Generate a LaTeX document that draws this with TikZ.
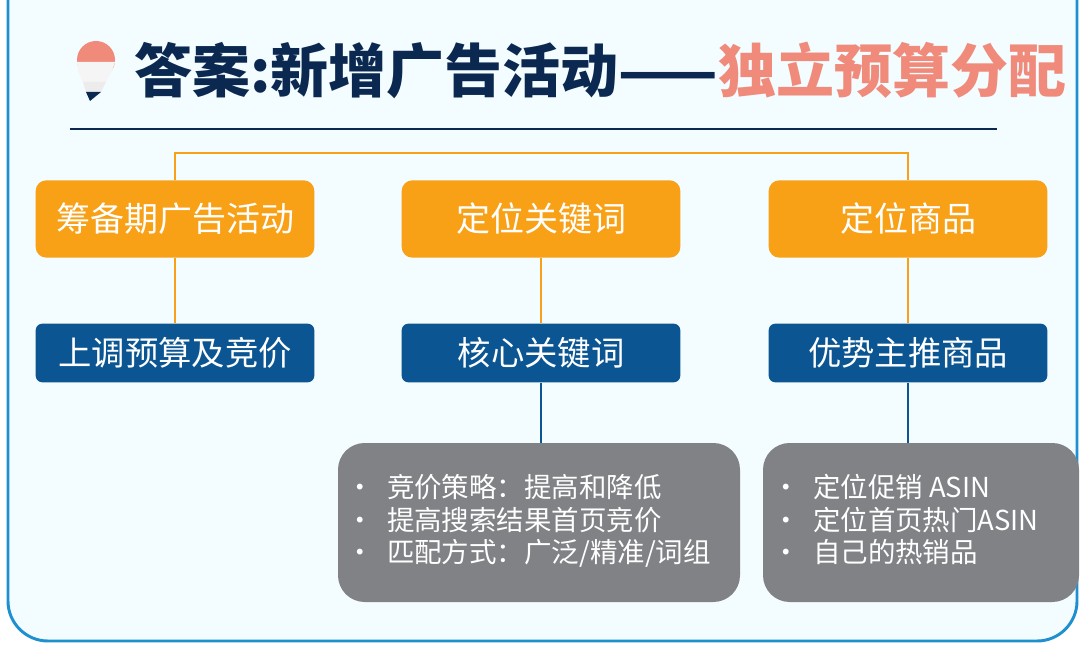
\documentclass[tikz,border=0pt]{standalone}
\usepackage{fontspec}
\newfontfamily\cjk{Noto Sans CJK SC}
\definecolor{bgc}{HTML}{F3FCFF}
\definecolor{frm}{HTML}{1E90D0}
\definecolor{navy}{HTML}{0B2850}
\definecolor{salmon}{HTML}{F08A7A}
\definecolor{org}{HTML}{F8A016}
\definecolor{blu}{HTML}{0A5592}
\definecolor{gry}{HTML}{808285}
\begin{document}
\begin{tikzpicture}[x=0.75pt,y=-0.75pt,
  obox/.style={fill=org,rounded corners=8pt,minimum width=209pt,minimum height=58pt,text=white,font=\cjk\fontsize{25.5}{30}\selectfont},
  bbox/.style={fill=blu,rounded corners=5pt,minimum width=209pt,minimum height=44pt,text=white,font=\cjk\fontsize{25}{29}\selectfont},
  gbox/.style={fill=gry,rounded corners=18pt,text=white,align=left,font=\cjk\fontsize{20.6}{24.4}\selectfont,anchor=north west,inner sep=0pt},
  oline/.style={draw=org,line width=2pt},
  bline/.style={draw=blu,line width=2pt}]
\useasboundingbox (0,0) rectangle (1080,655);
\fill[white] (0,0) rectangle (1080,655);
\draw[frm,line width=2.2pt,fill=bgc,rounded corners=30pt] (8,-40) rectangle (1077,641);
% bulb
\fill[salmon] (96,60) circle (19);
\fill[white!92!gray] (77,62) -- (115,62) -- (112,71) -- (106,82) -- (83,82) -- (78,71) -- cycle;
\fill[white!85!gray] (83,82) -- (106,82) -- (101,92) -- (86,92) -- cycle;
\fill[navy] (86,92) -- (101,92) -- (90,101) -- cycle;
\node[anchor=west,inner sep=0pt,font=\cjk\bfseries\fontsize{43.5}{50}\selectfont] (title) at (134,70) {\textcolor{navy}{答案:新增广告活动——}\textcolor{salmon}{独立预算分配}};
\coordinate (la) at (70,129); \coordinate (lb) at (997,129);
\draw[navy,line width=1pt] (la) -- (lb);
\node[obox] (o1) at (175,219) {筹备期广告活动};
\node[obox] (o2) at (541,219) {定位关键词};
\node[obox] (o3) at (908,219) {定位商品};
\node[bbox] (b1) at (175,353) {上调预算及竞价};
\node[bbox] (b2) at (541,353) {核心关键词};
\node[bbox] (b3) at (908,353) {优势主推商品};
\coordinate (t1) at (175,153); \coordinate (t3) at (908,153);
\draw[oline] (o1.north) -- (t1) -- (t3) -- (o3.north);
\draw[oline] (o1) -- (b1); \draw[oline] (o2) -- (b2); \draw[oline] (o3) -- (b3);
\fill[gry,rounded corners=20pt] (338,443) rectangle (740,602);
\fill[gry,rounded corners=20pt] (763,443) rectangle (1079,602);
\node[gbox] (g1) at (346,474) {•\hspace{10pt}竞价策略：提高和降低\\•\hspace{10pt}提高搜索结果首页竞价\\•\hspace{10pt}匹配方式：广泛/精准/词组};
\node[gbox] (g2) at (772,474) {•\hspace{10pt}定位促销 ASIN\\•\hspace{10pt}定位首页热门ASIN\\•\hspace{10pt}自己的热销品};
\coordinate (c2) at (541,443); \coordinate (c3) at (908,443);
\draw[bline] (b2) -- (c2); \draw[bline] (b3) -- (c3);
\end{tikzpicture}
\end{document}
